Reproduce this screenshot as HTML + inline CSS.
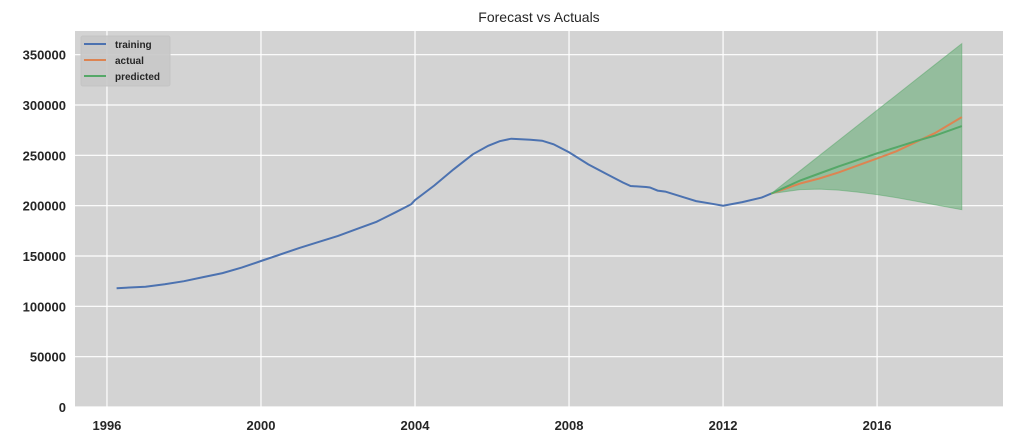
<!DOCTYPE html>
<html><head><meta charset="utf-8"><style>
body{margin:0;background:#fff;}
svg{display:block;font-family:"Liberation Sans",sans-serif;}
</style></head><body>
<svg id="chart" width="1014" height="445" xmlns="http://www.w3.org/2000/svg"></svg>
<script>
const yTicks=[0,50000,100000,150000,200000,250000,300000,350000];
const xTicks=[1996,2000,2004,2008,2012,2016];
const trainX=[1996.25,1997,1997.5,1998,1998.5,1999,1999.5,2000,2000.5,2001,2001.5,2002,2002.5,2003,2003.5,2003.9,2004,2004.5,2005,2005.5,2005.9,2006.2,2006.5,2007,2007.3,2007.6,2008,2008.5,2009,2009.4,2009.6,2010,2010.1,2010.3,2010.5,2011,2011.3,2011.7,2012,2012.5,2013,2013.25];
const trainY=[118000,119500,122000,125000,129000,133000,138500,145000,151500,158000,164000,170000,177000,184000,193500,201500,205500,220000,236000,251000,259500,264000,266500,265500,264500,261000,253000,241000,231000,223000,219500,218500,218000,215000,214000,208000,204500,202000,200000,203500,208000,212000];
const fcX=[2013.25,2014,2014.5,2015,2015.5,2016,2016.5,2017,2017.5,2018.2];
const actualY=[212000,222000,227000,233000,240000,247000,254000,263000,272000,288000];
const predY=[212000,225000,232000,239000,245500,252000,258000,264000,269500,279000];
const upperY=[212000,234600,249600,264700,279700,294800,309800,324900,339900,361000];
const lowerY=[212000,216000,216500,215500,213500,211000,208000,204500,201000,196000];

const L=75,R=1003,T=31,B=407;
const x=v=>L+(v-1995.17)/(2019.27-1995.17)*(R-L);
const y=v=>B-v*(302/300000);
const svg=document.getElementById('chart');
const NS='http://www.w3.org/2000/svg';
function mk(t,a,p){const e=document.createElementNS(NS,t);for(const k in a)e.setAttribute(k,a[k]);(p||svg).appendChild(e);return e;}
const bg=mk('rect',{x:L,y:T,width:R-L,height:B-T,fill:'#d3d3d3'});


yTicks.forEach(v=>{
  const g=mk('line',{x1:L,x2:R,y1:y(v),y2:y(v),stroke:'#fff','stroke-width':1.2});
  
  
  const t=mk('text',{x:L-9,y:y(v)+5,'text-anchor':'end','font-size':13,'font-weight':'bold',fill:'#262626'});
  t.textContent=v;
  
  
});
xTicks.forEach(v=>{
  const g=mk('line',{x1:x(v),x2:x(v),y1:T,y2:B,stroke:'#fff','stroke-width':1.2});
  
  
  const t=mk('text',{x:x(v),y:B+23,'text-anchor':'middle','font-size':13,'font-weight':'bold',fill:'#262626'});
  t.textContent=v;
  
  
});
const pts=(xs,ys)=>xs.map((v,i)=>x(v).toFixed(1)+','+y(ys[i]).toFixed(1));
const band=mk('polygon',{points:pts(fcX,upperY).concat(pts(fcX,lowerY).reverse()).join(' '),fill:'#55a868','fill-opacity':0.5,stroke:'#55a868','stroke-opacity':0.5});


const lt=mk('polyline',{points:pts(trainX,trainY).join(' '),fill:'none',stroke:'#4c72b0','stroke-width':2});


const la=mk('polyline',{points:pts(fcX,actualY).join(' '),fill:'none',stroke:'#dd8452','stroke-width':2});


const lp=mk('polyline',{points:pts(fcX,predY).join(' '),fill:'none',stroke:'#55a868','stroke-width':2});


const title=mk('text',{x:(L+R)/2,y:22,'text-anchor':'middle','font-size':14,fill:'#262626'});
title.textContent='Forecast vs Actuals';


const lg=mk('g',{});


mk('rect',{x:81,y:36,width:89,height:50,rx:2,fill:'#c8c8c8','fill-opacity':0.9,stroke:'#c4c4c4'},lg);
[['training','#4c72b0'],['actual','#dd8452'],['predicted','#55a868']].forEach((d,i)=>{
  const yy=44+i*16;
  const ln=mk('line',{x1:84,x2:106,y1:yy,y2:yy,stroke:d[1],'stroke-width':2},lg);
  
  
  const t=mk('text',{x:115,y:yy+4,'font-size':10,'font-weight':'bold',fill:'#262626'},lg);
  t.textContent=d[0];
  
  
});
</script>
</body></html>
